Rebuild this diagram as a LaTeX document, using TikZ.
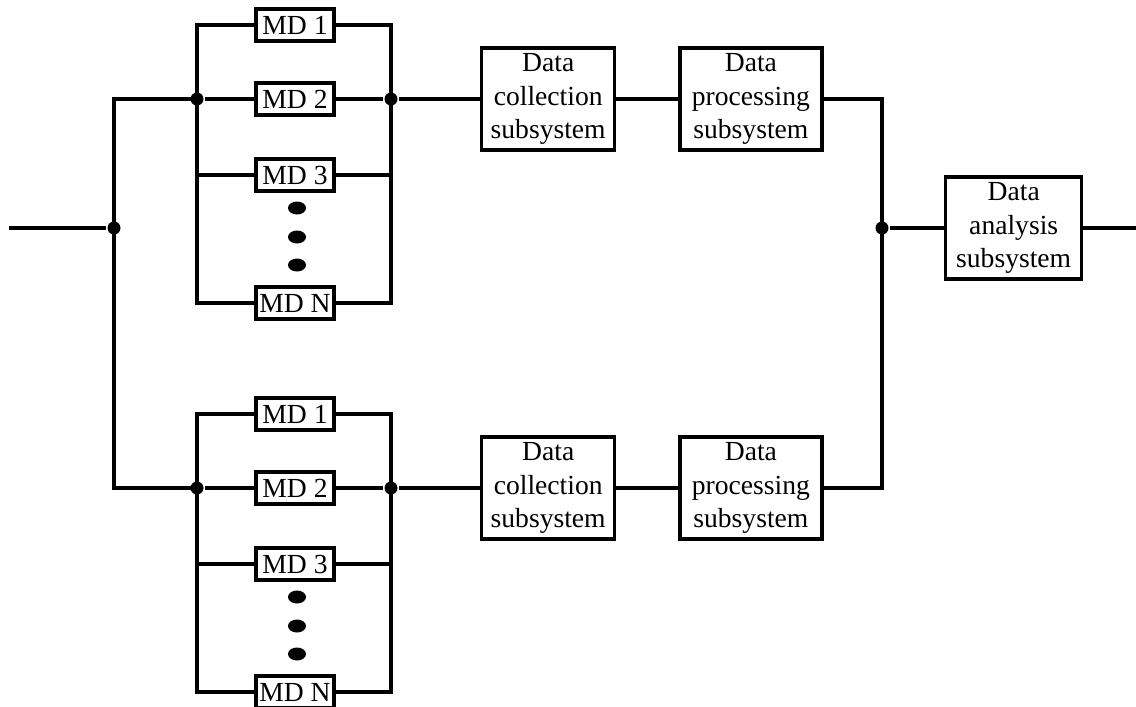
\documentclass[tikz,border=0pt]{standalone}
\usepackage{fontspec}
\setmainfont{Liberation Serif}
\usetikzlibrary{positioning}
\usetikzlibrary{shapes.geometric}

\begin{document}
\begin{tikzpicture}[x=0.5pt, y=-0.5pt, line width=1.6pt, font=\fontsize{13.8}{16.7}\selectfont]
	\tikzstyle{node}=[circle,fill=black,minimum size=6.5pt,inner sep=0pt]
	\tikzstyle{md}=[draw=black,rectangle,minimum width=39pt,minimum height=16pt,inner sep=0pt]
	\tikzstyle{block}=[draw=black,rectangle,minimum width=66.5pt,minimum height=51pt,inner sep=0pt,align=center]
	\tikzstyle{dot}=[ellipse,fill=black,minimum width=9pt,minimum height=6.5pt,inner sep=0pt]

	\useasboundingbox (0,0) rectangle (1136,707);

	\coordinate (in) at (9,228);
	\node[node] (split) at (114,228) {};
	\draw (in) -- (split);

	% two identical branches, upper (u) and lower (l)
	\foreach \g/\yo in {u/0, l/389} {
		\node[md] (md1\g) at (295,25+\yo) {MD 1};
		\node[md] (md2\g) at (295,99+\yo) {MD 2};
		\node[md] (md3\g) at (295,175+\yo) {MD 3};
		\node[md] (mdN\g) at (295,303+\yo) {MD N};
		\node[dot] (dotA\g) at (297,208+\yo) {};
		\node[dot] (dotB\g) at (297,237+\yo) {};
		\node[dot] (dotC\g) at (297,265+\yo) {};
		\node[node] (jl\g) at (197,99+\yo) {};
		\node[node] (jr\g) at (391,99+\yo) {};
		\node[block, right=40.5pt of jr\g] (coll\g) {Data\\collection\\subsystem};
		\node[block, minimum width=71pt, right=31pt of coll\g] (proc\g) {Data\\processing\\subsystem};

		\draw (md1\g.west) -| (jl\g.center) |- (mdN\g.west);
		\draw (md1\g.east) -| (jr\g.center) |- (mdN\g.east);
		\draw (jl\g) -- (md2\g);
		\draw (md3\g.west) -- (md3\g.west -| jl\g);
		\draw (md3\g.east) -- (md3\g.east -| jr\g);
		\draw (md2\g) -- (jr\g) -- (coll\g) -- (proc\g);
	}

	\draw (jlu.center) -| (split.center) |- (jll.center);

	\node[node] (merge) at (882,228) {};
	\node[block, minimum width=68pt, right=27pt of merge] (ana) {Data\\analysis\\subsystem};
	\coordinate (out) at (1136,228);
	\draw (procu.east) -| (merge.center) |- (procl.east);
	\draw (merge) -- (ana) -- (out);
\end{tikzpicture}
\end{document}
